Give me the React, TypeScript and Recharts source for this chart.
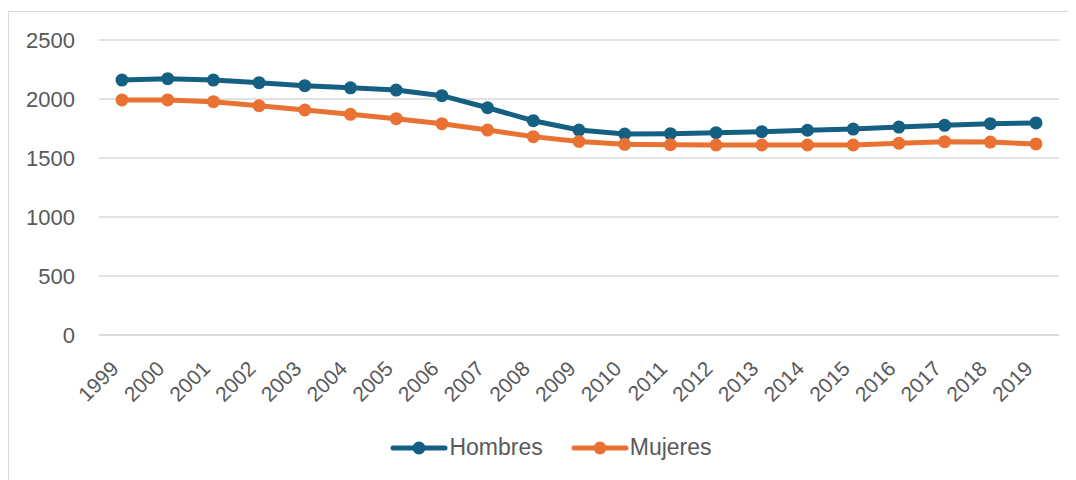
import React from "react";
import { LineChart, Line, XAxis, YAxis, CartesianGrid, Legend } from "recharts";

const years = [
  "1999", "2000", "2001", "2002", "2003", "2004", "2005", "2006", "2007", "2008",
  "2009", "2010", "2011", "2012", "2013", "2014", "2015", "2016", "2017", "2018", "2019",
];
const hombres = [
  2160, 2172, 2160, 2138, 2113, 2095, 2076, 2028, 1926, 1816,
  1737, 1703, 1706, 1715, 1723, 1735, 1745, 1762, 1777, 1791, 1797,
];
const mujeres = [
  1992, 1992, 1977, 1943, 1907, 1870, 1833, 1791, 1737, 1681,
  1640, 1616, 1613, 1610, 1610, 1610, 1610, 1625, 1638, 1635, 1619,
];
const yTicks = [0, 500, 1000, 1500, 2000, 2500];

const BLUE = "#156082";
const ORANGE = "#E97132";
const TEXT = "#595959";
const GRID = "#D9D9D9";
const FONT = "'Liberation Sans', Arial, sans-serif";

const series = [
  { key: "Hombres", color: BLUE },
  { key: "Mujeres", color: ORANGE },
];

const data = years.map((year, i) => ({ year, Hombres: hombres[i], Mujeres: mujeres[i] }));

// year labels turned 45° and hung off the tick
const YearTick = (props: any) => {
  const { x, y, payload } = props;
  const ax = x - 2;
  const ay = y + 35;
  return (
    <text
      x={ax}
      y={ay}
      transform={`rotate(-45 ${ax} ${ay})`}
      textAnchor="end"
      fill={TEXT}
      fontSize={21}
      fontFamily={FONT}
    >
      {payload.value}
    </text>
  );
};

const LegendRow = () => (
  <div style={{ display: "flex", justifyContent: "center", gap: 28, fontFamily: FONT }}>
    {series.map((s) => (
      <div key={s.key} style={{ display: "flex", alignItems: "center" }}>
        <svg width={58} height={16}>
          <line x1={3} y1={8} x2={55} y2={8} stroke={s.color} strokeWidth={5} strokeLinecap="round" />
          <circle cx={29} cy={8} r={6.5} fill={s.color} />
        </svg>
        <span style={{ fontSize: 23, color: TEXT, marginLeft: 1 }}>{s.key}</span>
      </div>
    ))}
  </div>
);

export default function App() {
  return (
    <div
      style={{
        marginTop: 3,
        width: 1059,
        height: 475,
        borderTop: `1px solid ${GRID}`,
        borderLeft: `1px solid ${GRID}`,
        background: "#fff",
      }}
    >
      <style>{"body{overflow:hidden}"}</style>
      <LineChart
        width={1058}
        height={455}
        data={data}
        margin={{ top: 28, right: 8, left: 0, bottom: 32 }}
      >
        <CartesianGrid vertical={false} stroke={GRID} strokeWidth={1.3} />
        <XAxis
          dataKey="year"
          interval={0}
          height={100}
          padding={{ left: 23, right: 23 }}
          axisLine={{ stroke: GRID, strokeWidth: 1.3 }}
          tickLine={false}
          tickSize={0}
          tickMargin={0}
          tick={<YearTick />}
        />
        <YAxis
          width={90}
          domain={[0, 2500]}
          ticks={yTicks}
          axisLine={false}
          tickLine={false}
          tickSize={0}
          tickMargin={24}
          tick={{ fill: TEXT, fontSize: 22, fontFamily: FONT }}
        />
        <Legend
          layout="horizontal"
          align="center"
          verticalAlign="middle"
          wrapperStyle={{ left: 17, width: 1050, top: 422 }}
          content={<LegendRow />}
        />
        {series.map((s) => (
          <Line
            key={s.key}
            type="linear"
            dataKey={s.key}
            stroke={s.color}
            strokeWidth={5}
            dot={{ r: 6.5, fill: s.color, stroke: "none" }}
            activeDot={false}
            isAnimationActive={false}
          />
        ))}
      </LineChart>
    </div>
  );
}
